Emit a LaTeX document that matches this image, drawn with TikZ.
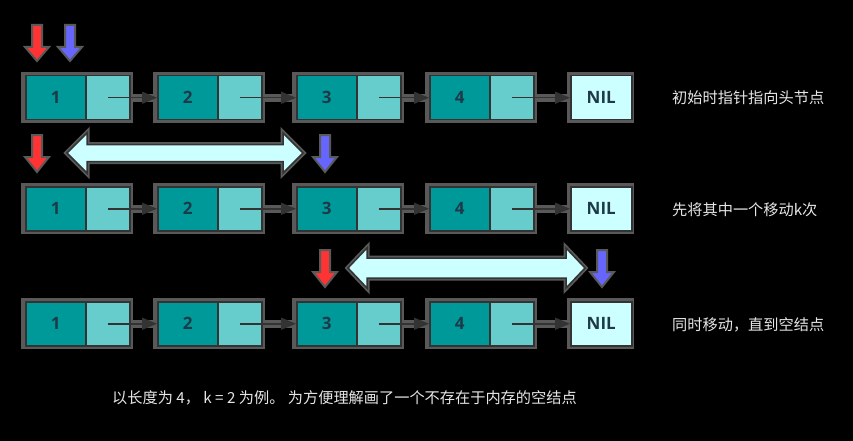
\documentclass[tikz,border=0pt]{standalone}
\usepackage{fontspec}
\setmainfont{Open Sans}
\newfontfamily\cjk{Noto Sans CJK SC}
\usetikzlibrary{arrows.meta}
\definecolor{tealD}{HTML}{009999}
\definecolor{tealL}{HTML}{66CCCC}
\definecolor{nilC}{HTML}{CCFFFF}
\definecolor{ptrR}{HTML}{FF3333}
\definecolor{ptrB}{HTML}{6666FF}
\definecolor{edgeC}{HTML}{333333}
\definecolor{shadeC}{HTML}{595959}
\definecolor{txtC}{HTML}{1E3A48}
\definecolor{lblC}{HTML}{E6E6E6}
\tikzset{
  cellD/.style={draw=edgeC, line width=1.5pt, fill=tealD, minimum width=60pt, minimum height=44pt, inner sep=0pt, anchor=north west, font=\bfseries\fontsize{17}{17}\selectfont, text=txtC},
  cellL/.style={draw=edgeC, line width=1.5pt, fill=tealL, minimum width=44pt, minimum height=44pt, inner sep=0pt, anchor=north west},
  nilbox/.style={draw=edgeC, line width=1.5pt, fill=nilC, minimum width=61pt, minimum height=44pt, inner sep=0pt, anchor=north west, font=\bfseries\fontsize{17}{17}\selectfont, text=txtC},
  band/.style={draw=shadeC, line width=8pt},
  link/.style={draw=edgeC, line width=1.5pt, -{Triangle[length=15pt,width=12pt]}},
  ptrshape/.style={draw=shadeC, line width=2pt, line join=miter},
  dbl/.style={fill=nilC, draw=edgeC, line width=1.5pt, preaction={draw=shadeC, line width=5pt}},
  lbl/.style={anchor=west, text=lblC, font=\cjk\fontsize{15.2}{15.2}\selectfont, inner sep=0pt},
}
\newcommand{\lnode}[4]{%
  \fill[shadeC] (#2-4,#3-3) rectangle (#2+108,#3+48);
  \node[cellD] (#1d) at (#2,#3) {#4};
  \node[cellL] (#1l) at (#2+60,#3) {};
}
\newcommand{\nilnode}[3]{%
  \fill[shadeC] (#2-3,#3-3) rectangle (#2+64,#3+48);
  \node[nilbox] (#1) at (#2,#3) {NIL};
}
\newcommand{\ptrdown}[4]{%
  \draw[ptrshape, fill=#4] (#1-5,#2) -- (#1+5,#2) -- (#1+5,#2+22) -- (#1+12,#2+22) -- (#1,#3) -- (#1-12,#2+22) -- (#1-5,#2+22) -- cycle;
}
\newcommand{\dblarrow}[6]{% x1 x2 yc shafthalf headhalf headlen
  \draw[dbl] (#1,#3) -- (#1+#6,#3-#5) -- (#1+#6,#3-#4) -- (#2-#6,#3-#4) -- (#2-#6,#3-#5) -- (#2,#3) -- (#2-#6,#3+#5) -- (#2-#6,#3+#4) -- (#1+#6,#3+#4) -- (#1+#6,#3+#5) -- cycle;
}
\newcommand{\linkrow}[1]{%
  \foreach \a/\b in {1/2,2/3,3/4} {
    \draw[band] (#1\a l.east) -- (#1\b d.west);
    \draw[link] (#1\a l.center) -- (#1\b d.west);
  }
  \draw[band] (#14l.east) -- (#1n.west);
  \draw[link] (#14l.center) -- (#1n.west);
}
\begin{document}
\begin{tikzpicture}[x=1pt,y=-1pt]
\fill[black] (0,0) rectangle (853,441);
\useasboundingbox (0,0) rectangle (853,441);

% row A
\lnode{a1}{25}{75}{1}
\lnode{a2}{157}{75}{2}
\lnode{a3}{296}{75}{3}
\lnode{a4}{429}{75}{4}
\nilnode{an}{570}{75}
\linkrow{a}
\ptrdown{37}{25}{61}{ptrR}
\ptrdown{70}{25}{61}{ptrB}
\node[lbl] (la) at (672,98) {初始时指针指向头节点};

% row B
\lnode{b1}{25}{186}{1}
\lnode{b2}{157}{186}{2}
\lnode{b3}{296}{186}{3}
\lnode{b4}{429}{186}{4}
\nilnode{bn}{570}{186}
\linkrow{b}
\ptrdown{37}{135}{172}{ptrR}
\ptrdown{325}{135}{172}{ptrB}
\dblarrow{67}{303}{153}{8.5}{20}{20}
\node[lbl] (lb) at (672,210) {先将其中一个移动k次};

% row C
\lnode{c1}{25}{301}{1}
\lnode{c2}{157}{301}{2}
\lnode{c3}{296}{301}{3}
\lnode{c4}{429}{301}{4}
\nilnode{cn}{570}{301}
\linkrow{c}
\ptrdown{325}{250}{287}{ptrR}
\ptrdown{602}{250}{287}{ptrB}
\dblarrow{348}{585}{268}{10}{20}{19}
\node[lbl] (lc) at (672,325) {同时移动，直到空结点};

\node[lbl, font=\cjk\fontsize{15.2}{15.2}\selectfont] (cap) at (112,398) {以长度为 4， k = 2 为例。 为方便理解画了一个不存在于内存的空结点};
\end{tikzpicture}
\end{document}
